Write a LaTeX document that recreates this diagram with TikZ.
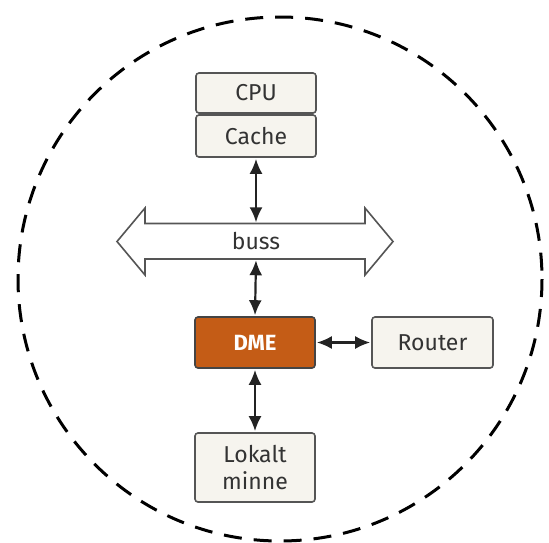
\documentclass[tikz,border=0pt]{standalone}
\usepackage{fontspec}
\setmainfont{Fira Sans}
\usetikzlibrary{arrows.meta}
\definecolor{boxfill}{RGB}{246, 244, 238}
\definecolor{boxline}{RGB}{85, 85, 85}
\definecolor{dmeorange}{RGB}{196, 92, 22}
\definecolor{arrowgray}{RGB}{35, 35, 35}

\tikzset{
  unitbox/.style={draw=boxline, fill=boxfill, line width=1.6pt, rounded corners=3pt,
    minimum width=120pt, align=center, font=\fontsize{23}{27}\selectfont, text=black!80},
  link/.style={{Latex[length=15pt,width=13pt]}-{Latex[length=15pt,width=13pt]},
    line width=2.2pt, arrowgray, shorten <=1pt, shorten >=1pt}
}

\begin{document}
\begin{tikzpicture}[x=1pt,y=-1pt]
\useasboundingbox (0,0) rectangle (549,542);

% dashed boundary
\draw[line width=3pt, dash pattern=on 18pt off 12pt] (280,279) circle (262);

% processor
\node[unitbox, minimum height=40pt] (cpu) at (256,93) {CPU};
\node[unitbox, minimum height=42pt] (cache) at (256,136) {Cache};

% bus
\draw[boxline, line width=1.6pt, fill=white]
  (117,241.5) -- (145,208) -- (145,223.5) -- (365,223.5) -- (365,208)
  -- (393,241.5) -- (365,275) -- (365,259) -- (145,259) -- (145,275) -- cycle;
\node[minimum width=220pt, minimum height=35.5pt, inner sep=0pt,
  font=\fontsize{23}{27}\selectfont, text=black!80] (bus) at (256,241.3) {buss};

% DME and neighbours
\node[unitbox, draw=boxline!80!black, fill=dmeorange, text=white, minimum height=51pt,
  font=\fontsize{22}{27}\selectfont\bfseries] (dme) at (255,342.5) {DME};
\node[unitbox, minimum width=121pt, minimum height=51pt] (router) at (432.5,342.5) {Router};
\node[unitbox, minimum height=69pt] (mem) at (255,467.5) {Lokalt\\minne};

\draw[link] (cache.south) -- (bus.north);
\draw[link] (bus.south) -- (dme.north);
\draw[link] (dme.east) -- (router.west);
\draw[link] (dme.south) -- (mem.north);
\end{tikzpicture}
\end{document}
